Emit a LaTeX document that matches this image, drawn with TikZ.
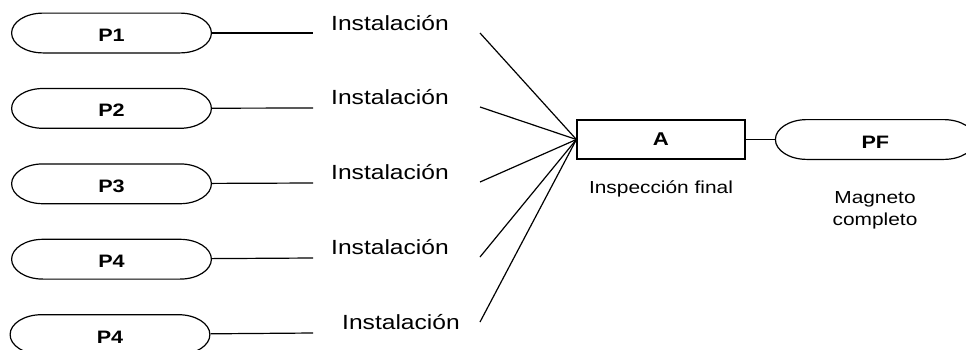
\documentclass[tikz,border=0pt]{standalone}
\usepackage{fontspec}
\setmainfont{Liberation Sans}[FakeStretch=1.2]
\usetikzlibrary{positioning}

\begin{document}
\begin{tikzpicture}[
			x=1pt, y=-1pt,
			pill/.style={rectangle, minimum width=201pt, minimum height=41pt, inner sep=0pt, text height=17pt, text depth=0pt, font=\bfseries\fontsize{18}{21}\selectfont,
				path picture={\draw[line width=1.2pt, x=1pt, y=1pt] ([xshift=32pt, yshift=-0.6pt]path picture bounding box.north west) -- ([xshift=-32pt, yshift=-0.6pt]path picture bounding box.north east) arc[start angle=90, end angle=-90, x radius=31.4, y radius=19.9] -- ([xshift=32pt, yshift=0.6pt]path picture bounding box.south west) arc[start angle=270, end angle=90, x radius=31.4, y radius=19.9] -- cycle;}},
			box/.style={rectangle, draw=black, line width=1.2pt, minimum width=168pt, minimum height=39pt, inner sep=0pt, font=\bfseries\fontsize{18.5}{21}\selectfont},
			inst/.style={inner sep=0pt, font=\fontsize{20.5}{24}\selectfont},
			note/.style={inner sep=0pt, align=center, font=\fontsize{17.4}{22}\selectfont},
			link/.style={line width=1.2pt, draw=black}
			]
			\useasboundingbox (0,0) rectangle (966,349);
			\clip (0,0) rectangle (966,349);
			
			% Parts on the left
			\node[pill] (p1) at (111.5,33) {P1};
			\node[pill, below=34pt of p1] (p2) {P2};
			\node[pill, below=34pt of p2] (p3) {P3};
			\node[pill, below=34pt of p3] (p4) {P4};
			\node[pill, below=34pt of p4, xshift=-1.5pt] (p5) {P4};
			
			% Installation labels
			\node[inst, anchor=base west] (t1) at (331,30) {Instalación};
			\node[inst, anchor=base west] (t2) at (331,104.5) {Instalación};
			\node[inst, anchor=base west] (t3) at (331,179.5) {Instalación};
			\node[inst, anchor=base west] (t4) at (331,254.5) {Instalación};
			\node[inst, anchor=base west] (t5) at (342,329) {Instalación};
			
			% Inspection and final product
			\node[box] (a) at (661,139.5) {A};
			\node[pill, right=29pt of a] (pf) {PF};
			\node[note, anchor=base] (insp) at (661,193) {Inspección final};
			\node[note] (mag) at (875,210.6) {Magneto\\completo};
			
			% Free ends of the connectors
			\coordinate (e1) at (313,33);
			\coordinate (e2) at (313,108);
			\coordinate (e3) at (313,183);
			\coordinate (e4) at (313,258);
			\coordinate (e5) at (313,333);
			\coordinate (f1) at (480,33);
			\coordinate (f2) at (480,107);
			\coordinate (f3) at (480,182);
			\coordinate (f4) at (480,257);
			\coordinate (f5) at (480,322);
			
			% Horizontal connectors
			\draw[link] (p1) -- (e1);
			\draw[link] (p2) -- (e2);
			\draw[link] (p3) -- (e3);
			\draw[link] (p4) -- (e4);
			\draw[link] (p5) -- (e5);
			
			% Fan into the inspection
			\draw[link] (f1) -- (a.west);
			\draw[link] (f2) -- (a.west);
			\draw[link] (f3) -- (a.west);
			\draw[link] (f4) -- (a.west);
			\draw[link] (f5) -- (a.west);
			
			\draw[link] (a) -- (pf);
			
		\end{tikzpicture}
\end{document}
